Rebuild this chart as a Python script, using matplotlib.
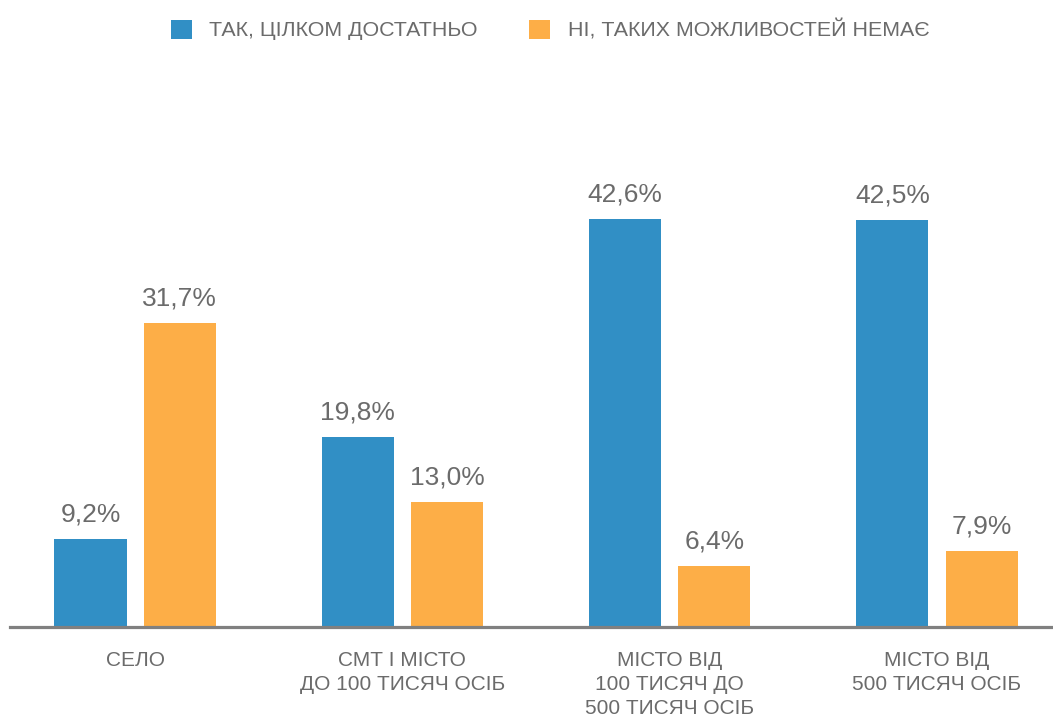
import numpy as np
import matplotlib.pyplot as plt

categories = ["СЕЛО", "СМТ І МІСТО\nДО 100 ТИСЯЧ ОСІБ",
              "МІСТО ВІД\n100 ТИСЯЧ ДО\n500 ТИСЯЧ ОСІБ", "МІСТО ВІД\n500 ТИСЯЧ ОСІБ"]
series_names = ["ТАК, ЦІЛКОМ ДОСТАТНЬО", "НІ, ТАКИХ МОЖЛИВОСТЕЙ НЕМАЄ"]
yes_values = [9.2, 19.8, 42.6, 42.5]
no_values = [31.7, 13.0, 6.4, 7.9]

blue = "#318fc5"
orange = "#fdae47"
text_gray = "#6b6b6b"

plt.rcParams['font.family'] = ['Liberation Sans', 'DejaVu Sans']

fig = plt.figure(figsize=(10.53, 7.17), dpi=100)
ax = fig.add_axes([10 / 1053, 90 / 717, 1 - 10 / 1053, 527 / 717])

x = np.arange(len(categories))
w = 0.27
off = 0.167
b1 = ax.bar(x - off, yes_values, w, color=blue, label=series_names[0])
b2 = ax.bar(x + off, no_values, w, color=orange, label=series_names[1])

for bars, vals in [(b1, yes_values), (b2, no_values)]:
    for bar, v in zip(bars, vals):
        ax.annotate(f"{v:.1f}%".replace(".", ","),
                    (bar.get_x() + bar.get_width() / 2, v),
                    xytext=(0, 9), textcoords="offset points",
                    ha="center", va="bottom", fontsize=19, color=text_gray)

ax.set_xlim(-0.468, 3.434)
ax.set_ylim(0, 55)
ax.set_xticks(x)
ax.set_xticklabels(categories, fontsize=15, color=text_gray, linespacing=1.33, va="top")
ax.tick_params(axis="x", length=0, pad=17)
ax.set_yticks([])
for s in ["top", "right", "left"]:
    ax.spines[s].set_visible(False)
ax.spines["bottom"].set_color("#808080")
ax.spines["bottom"].set_linewidth(2.3)

fig.legend(loc="center", bbox_to_anchor=(550 / 1053, 1 - 30 / 717), ncol=2, frameon=False,
           fontsize=15.4, labelcolor=text_gray, handlelength=1.0, handleheight=1.0,
           handletextpad=0.8, columnspacing=2.4)

fig.savefig("out.png", dpi=100)
